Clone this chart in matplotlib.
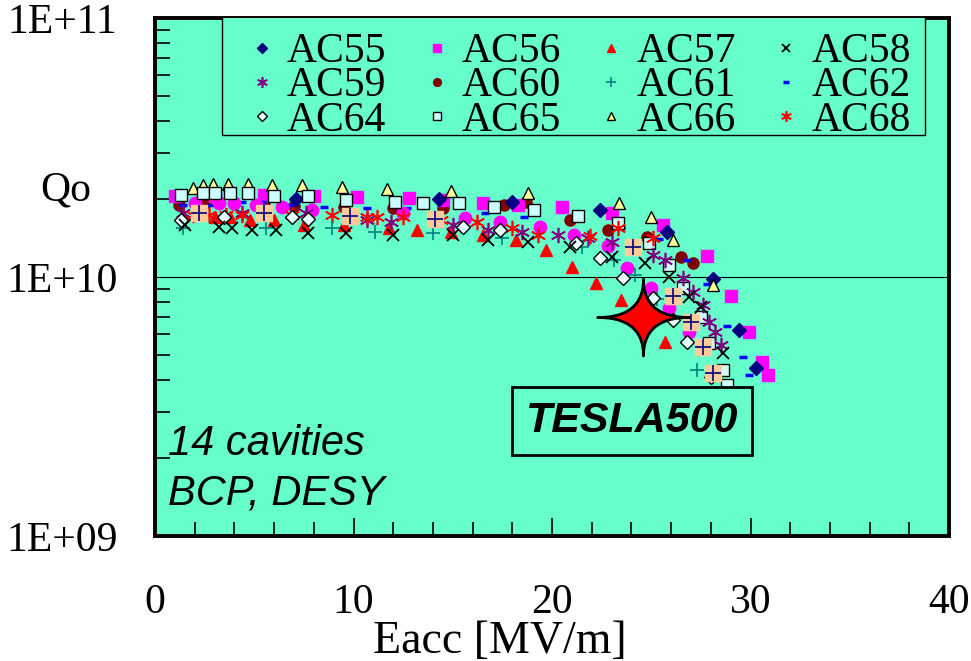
import matplotlib
matplotlib.use("Agg")
import matplotlib.pyplot as plt
import numpy as np
from matplotlib.path import Path
from matplotlib.lines import Line2D
from matplotlib.patches import Rectangle
from matplotlib.ticker import FixedLocator, NullFormatter, LogLocator

# Eacc [MV/m] and Qo / 1e10 for each cavity
ac55_e = [7.1, 14.3, 18.0, 22.4, 25.8, 28.1, 29.4, 30.3]
ac55_q = [2.00, 2.00, 1.95, 1.81, 1.49, 0.98, 0.624, 0.446]

ac56_e = [1.0, 3.0, 5.5, 8.0, 10.2, 12.8, 14.5, 16.5, 18.3, 20.5, 23.0, 25.6, 27.8, 29.0, 29.9, 30.6, 30.9]
ac56_q = [2.05, 2.05, 2.07, 2.05, 2.04, 2.02, 1.98, 1.93, 1.90, 1.86, 1.77, 1.59, 1.21, 0.845, 0.614, 0.47, 0.418]

ac57_e = [1.4, 3.0, 3.8, 4.8, 6.0, 7.5, 9.5, 11.8, 13.2, 14.9, 16.5, 18.2, 19.7, 21.0, 22.2, 23.5, 25.7]
ac57_q = [1.73, 1.70, 1.70, 1.66, 1.66, 1.59, 1.59, 1.55, 1.52, 1.49, 1.45, 1.39, 1.27, 1.09, 0.95, 0.815, 0.561]

ac58_e = [1.5, 3.2, 3.9, 4.9, 6.1, 7.7, 9.6, 12.0, 15.0, 16.8, 18.8, 20.9, 23.0, 24.7, 25.9, 26.9, 27.5, 28.6]
ac58_q = [1.59, 1.56, 1.55, 1.52, 1.52, 1.48, 1.48, 1.45, 1.45, 1.39, 1.37, 1.31, 1.19, 1.13, 1.00, 0.837, 0.766, 0.509]

ac59_e = [1.4, 4.4, 7.6, 10.7, 11.9, 15.0, 16.8, 18.5, 20.3, 21.8, 23.0, 25.1, 25.7, 26.6, 27.1, 27.6, 27.9, 28.2, 28.5]
ac59_q = [1.77, 1.77, 1.77, 1.66, 1.63, 1.59, 1.52, 1.49, 1.45, 1.42, 1.37, 1.22, 1.16, 0.99, 0.875, 0.78, 0.67, 0.614, 0.546]

ac60_e = [1.2, 2.5, 4.0, 5.5, 7.0, 9.5, 12.0, 14.5, 17.6, 18.7, 20.9, 22.8, 24.8, 26.5, 27.1]
ac60_q = [1.90, 1.93, 1.91, 1.90, 1.88, 1.86, 1.85, 1.85, 1.90, 1.95, 1.66, 1.52, 1.43, 1.19, 1.13]

ac61_e = [1.4, 5.6, 8.9, 11.1, 14.0, 17.5, 21.5, 23.1, 24.2, 25.3, 27.3, 28.1]
ac61_q = [1.55, 1.55, 1.55, 1.49, 1.48, 1.42, 1.30, 1.16, 1.02, 0.82, 0.438, 0.321]

ac62_e = [1.4, 2.8, 4.4, 5.4, 6.8, 8.5, 10.7, 12.7, 16.6, 18.6, 23.5, 25.4, 26.8, 27.8, 28.8, 29.6, 29.9]
ac62_q = [1.90, 1.90, 1.95, 1.95, 1.90, 1.86, 1.85, 1.85, 1.77, 1.70, 1.55, 1.40, 1.16, 0.94, 0.647, 0.491, 0.418]

ac64_e = [1.3, 3.5, 6.9, 7.7, 15.5, 17.4, 21.2, 22.4, 23.6, 25.1, 26.1, 26.8, 28.0]
ac64_q = [1.66, 1.70, 1.70, 1.67, 1.56, 1.52, 1.35, 1.18, 0.99, 0.83, 0.68, 0.561, 0.411]

ac65_e = [1.3, 2.4, 3.0, 3.8, 4.7, 6.0, 7.7, 9.6, 12.1, 13.5, 15.3, 17.1, 19.1, 21.3, 23.3, 24.9, 25.9, 26.6, 27.5, 27.9, 28.6, 28.8]
ac65_q = [2.07, 2.11, 2.11, 2.11, 2.11, 2.05, 2.05, 1.98, 1.95, 1.93, 1.93, 1.86, 1.81, 1.72, 1.62, 1.35, 1.11, 0.91, 0.70, 0.556, 0.438, 0.383]

ac66_e = [1.9, 2.4, 2.9, 3.7, 4.7, 5.9, 7.4, 9.4, 11.7, 14.9, 18.8, 23.4, 25.0, 26.1, 28.1]
ac66_q = [2.21, 2.27, 2.29, 2.29, 2.29, 2.27, 2.27, 2.23, 2.19, 2.15, 2.11, 1.93, 1.70, 1.39, 0.93]

ac68_e = [1.9, 2.7, 3.6, 4.4, 6.9, 8.9, 10.7, 11.2, 12.5, 14.4, 16.2, 18.0, 19.3, 21.9, 23.3, 25.1]
ac68_q = [1.73, 1.73, 1.73, 1.73, 1.73, 1.73, 1.70, 1.70, 1.70, 1.66, 1.63, 1.55, 1.45, 1.44, 1.55, 1.42]

# two unlabelled series (magenta dots, peach squares)
dots_e = [2.0, 3.2, 4.0, 5.1, 6.4, 7.9, 12.5, 15.6, 17.4, 19.4, 21.1, 22.8, 23.8, 25.0, 25.9, 26.9]
dots_q = [1.93, 1.93, 1.93, 1.90, 1.86, 1.81, 1.77, 1.69, 1.63, 1.56, 1.45, 1.32, 1.08, 0.91, 0.76, 0.614]

peach_e = [2.2, 5.5, 9.8, 14.1, 24.1, 26.1, 27.0, 27.6, 28.1, 28.8]
peach_q = [1.77, 1.77, 1.72, 1.67, 1.30, 0.845, 0.67, 0.537, 0.426, 0.338]

tesla_e = [24.6]
tesla_q = [0.70]

x_ticks = [0, 10, 20, 30, 40]
y_ticks = [1e9, 1e10, 1e11]
y_labels = ["1E+09", "1E+10", "1E+11"]

BG = "#66FFCC"
SERIF = "Liberation Serif"
SANS = "Liberation Sans"


def q(v):
    return np.array(v) * 1e10


# 4 pointed star for the TESLA500 goal
t = np.linspace(0, 2 * np.pi, 400)
cx = np.sign(np.cos(t)) * np.abs(np.cos(t)) ** 4
cy = np.sign(np.sin(t)) * np.abs(np.sin(t)) ** 4
star = Path(np.column_stack([cx, 0.84 * cy]), closed=True)
aster = (6, 2, 0)

fig = plt.figure(figsize=(9.71, 6.61), dpi=100)
ax = fig.add_axes([155 / 971, 1 - 536 / 661, 794 / 971, 518 / 661])
ax.set_facecolor(BG)

h = {}
h["AC60"], = ax.plot(ac60_e, q(ac60_q), "o", color="#800000", ms=8, ls="none")
h["AC56"], = ax.plot(ac56_e, q(ac56_q), "s", color="#FF00FF", ms=8, ls="none")
h["AC62"], = ax.plot(ac62_e, q(ac62_q), "_", color="#0000FF", ms=6, mew=2.5, ls="none")
ax.plot(dots_e, q(dots_q), "o", color="#FF00FF", ms=9, ls="none")
h["AC55"], = ax.plot(ac55_e, q(ac55_q), "D", color="#000080", ms=7, ls="none")
h["AC66"], = ax.plot(ac66_e, q(ac66_q), "^", mfc="#FFFF99", mec="black", ms=9, ls="none")
h["AC65"], = ax.plot(ac65_e, q(ac65_q), "s", mfc="#CCFFFF", mec="black", ms=8, ls="none")
h["AC57"], = ax.plot(ac57_e, q(ac57_q), "^", color="#FF0000", ms=9, ls="none")
h["AC59"], = ax.plot(ac59_e, q(ac59_q), marker=aster, color="#800080", ms=11, mew=1.2, ls="none")
h["AC68"], = ax.plot(ac68_e, q(ac68_q), marker=aster, color="#FF0000", ms=11, mew=1.2, ls="none")
h["AC61"], = ax.plot(ac61_e, q(ac61_q), "+", color="#008080", ms=10, mew=1.2, ls="none")
h["AC64"], = ax.plot(ac64_e, q(ac64_q), "D", mfc="#E6FFFF", mec="black", ms=7, ls="none")
h["AC58"], = ax.plot(ac58_e, q(ac58_q), "x", color="black", ms=9, mew=1.3, ls="none")
ax.plot(peach_e, q(peach_q), "s", color="#FFCC99", ms=12, ls="none")
ax.plot(peach_e, q(peach_q), "+", color="#000080", ms=11, mew=1.2, ls="none")
ax.plot(tesla_e, q(tesla_q), marker=star, color="red", mec="black", mew=2, ms=66, ls="none", zorder=5)

ax.set_yscale("log")
ax.set_xlim(0, 40)
ax.set_ylim(1e9, 1e11)
ax.xaxis.set_major_locator(FixedLocator(x_ticks))
ax.xaxis.set_minor_locator(FixedLocator(np.arange(0, 40, 2)))
ax.yaxis.set_major_locator(FixedLocator(y_ticks))
ax.yaxis.set_minor_locator(LogLocator(base=10, subs=np.arange(2, 10)))
ax.yaxis.set_minor_formatter(NullFormatter())
ax.set_yticklabels(y_labels)
ax.tick_params(which="both", direction="in", top=False, right=False,
               labelsize=30, width=1.2, colors="black")
ax.tick_params(axis="x", which="major", length=13, pad=34)
ax.tick_params(axis="x", which="minor", length=10)
ax.tick_params(axis="y", which="major", length=0, pad=27)
ax.tick_params(axis="y", which="minor", length=11)
for lab in ax.get_xticklabels() + ax.get_yticklabels():
    lab.set_fontfamily(SERIF)
ax.yaxis.grid(True, which="major", color="black", lw=0.8)
for s in ax.spines.values():
    s.set_linewidth(2.8)

ax.set_xlabel("Eacc [MV/m]", fontsize=33, fontfamily=SERIF)
ax.xaxis.set_label_coords(0.434, -0.204)
ax.xaxis.label.set_va("center")
ax.set_ylabel("Qo", fontsize=30, fontfamily=SERIF, rotation=0, ha="left", va="center")
ax.yaxis.set_label_coords(-0.145, 0.668)

order = ["AC55", "AC59", "AC64", "AC56", "AC60", "AC65",
         "AC57", "AC61", "AC66", "AC58", "AC62", "AC68"]
leg_handles = []
for name in order:
    src = h[name]
    leg_handles.append(Line2D([], [], ls="none", marker=src.get_marker(),
                              mfc=src.get_markerfacecolor(), mec=src.get_markeredgecolor(),
                              mew=src.get_markeredgewidth(), ms=src.get_markersize() * 0.7))
leg = ax.legend(leg_handles, order, ncol=4, loc="upper left",
                bbox_to_anchor=(222 / 971, 1 - 16 / 661), bbox_transform=fig.transFigure,
                prop={"family": SERIF, "size": 30}, frameon=False,
                borderpad=0.4, labelspacing=-0.1, handlelength=1.1,
                handletextpad=0.05, columnspacing=0.66, borderaxespad=0)
leg.set_zorder(6)
# legend box drawn separately so it can hug the tight rows
box = Rectangle((222 / 971, 1 - 135 / 661), 703 / 971, 119 / 661, transform=fig.transFigure,
                fc=BG, ec="black", lw=1.0, zorder=5.5)
ax.add_artist(box)

ax.text(0.0164, 0.156, "14 cavities", transform=ax.transAxes, fontsize=30,
        fontfamily=SANS, style="italic", va="baseline")
ax.text(0.0164, 0.060, "BCP, DESY", transform=ax.transAxes, fontsize=30,
        fontfamily=SANS, style="italic", va="baseline")
ax.text(0.601, 0.222, "TESLA500", transform=ax.transAxes, fontsize=31,
        fontfamily=SANS, style="italic", weight="bold", ha="center", va="center",
        bbox=dict(boxstyle="square,pad=0.32", fc=BG, ec="black", lw=2))

fig.savefig("out.png", dpi=100)
